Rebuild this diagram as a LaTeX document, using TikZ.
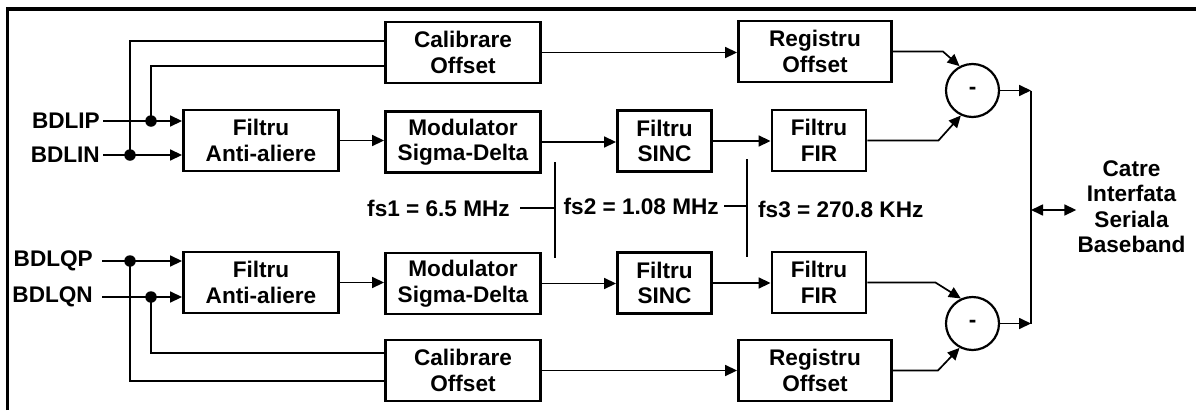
\documentclass[tikz,border=0pt]{standalone}
\usepackage{fontspec}
\setmainfont{Liberation Sans}
\usetikzlibrary{arrows.meta}

\begin{document}
\begin{tikzpicture}[x=1pt,y=-1pt,
  lbl/.style={font=\bfseries\fontsize{22.6}{25.5}\selectfont},
  blk/.style={lbl, draw, line width=2.9pt, minimum width=155pt, minimum height=61pt,
              inner sep=0pt, align=center},
  sblk/.style={blk, minimum width=94pt},
  rblk/.style={blk, minimum width=153pt},
  sum/.style={lbl, draw, circle, line width=2.2pt, minimum size=53pt, inner sep=0pt},
  txt/.style={lbl, inner sep=0pt, align=center},
  wire/.style={line width=1.7pt},
  tip/.tip={Triangle[length=12pt,width=11pt]},
  sig/.style={wire, -tip},
  jdot/.style={circle, fill, inner sep=0pt, minimum size=11.5pt},
  fsline/.style={line width=1.4pt}]

\useasboundingbox (0,0) rectangle (1196,410);

% frame (top and left edges)
\draw[line width=3.4pt] (7.3,410) -- (7.3,9) -- (1196,9);

% ---- I channel ----
\node[blk]  (cal1) at (463,52.5)  {Calibrare\\Offset};
\node[rblk] (reg1) at (815,51.5)  {Registru\\Offset};
\node[blk]  (aa1)  at (261,140.5) {Filtru\\Anti-aliere};
\node[blk]  (mod1) at (463,142)   {Modulator\\Sigma-Delta};
\node[sblk] (sinc1) at (664.5,141) {Filtru\\SINC};
\node[sblk] (fir1) at (819,140.5) {Filtru\\FIR};
\node[sum]  (sum1) at (972.5,90.5) {-};

% ---- Q channel ----
\node[blk]  (aa2)  at (261,282.5) {Filtru\\Anti-aliere};
\node[blk]  (mod2) at (463,283.5) {Modulator\\Sigma-Delta};
\node[sblk] (sinc2) at (664.5,283) {Filtru\\SINC};
\node[sblk] (fir2) at (819,282.5) {Filtru\\FIR};
\node[blk]  (cal2) at (463,370.5) {Calibrare\\Offset};
\node[rblk] (reg2) at (815,370.5) {Registru\\Offset};
\node[sum]  (sum2) at (972.5,323.5) {-};

% ---- inputs ----
\node[txt, anchor=east, inner xsep=3pt] (ip) at (103,121) {BDLIP};
\node[txt, anchor=east, inner xsep=3pt] (in) at (103,155) {BDLIN};
\node[txt, anchor=east, inner xsep=9pt] (qp) at (102,261) {BDLQP};
\node[txt, anchor=east, inner xsep=9pt] (qn) at (102,297) {BDLQN};

\node[jdot] (dip) at (151,121) {};
\node[jdot] (din) at (130,155) {};
\node[jdot] (dqp) at (130,261) {};
\node[jdot] (dqn) at (151,297) {};

\draw[sig] (ip.east) -- (ip.east -| aa1.west);
\draw[sig] (in.east) -- (in.east -| aa1.west);
\draw[sig] (qp.east) -- (qp.east -| aa2.west);
\draw[sig] (qn.east) -- (qn.east -| aa2.west);

\draw[wire] (din.center) |- ([yshift=11.5pt]cal1.west);
\draw[wire] (dip.center) |- ([yshift=-13.5pt]cal1.west);
\draw[wire] (dqn.center) |- ([yshift=17.5pt]cal2.west);
\draw[wire] (dqp.center) |- ([yshift=-10.5pt]cal2.west);

% ---- signal chain ----
\draw[sig] (aa1.east)   -- (aa1.east -| mod1.west);
\draw[sig] (mod1.east)  -- (mod1.east -| sinc1.west);
\draw[sig] (sinc1.east) -- (sinc1.east -| fir1.west);
\draw[sig] (aa2.east)   -- (aa2.east -| mod2.west);
\draw[sig] (mod2.east)  -- (mod2.east -| sinc2.west);
\draw[sig] (sinc2.east) -- (sinc2.east -| fir2.west);
\draw[sig] (cal1.east)  -- (cal1.east -| reg1.west);
\draw[sig] (cal2.east)  -- (cal2.east -| reg2.west);

% ---- subtractors ----
\draw[sig] (reg1.east) -- ++(50,0) -- (sum1.118);
\draw[sig] (fir1.east) -- ++(71,0) -- (sum1.245);
\draw[sig] (fir2.east) -- ++(68,0) -- (sum2.115);
\draw[sig] (reg2.east) -- ++(45,0) -- (sum2.242);

% ---- output bus ----
\coordinate (bus1) at (1031,90.5);
\coordinate (bus2) at (1031,323.5);
\coordinate (busm) at (1031,210);
\draw[sig] (sum1.east) -- (bus1);
\draw[sig] (sum2.east) -- (bus2);
\draw[wire] (bus1) -- (bus2);
\node[txt, inner xsep=1pt] (out) at (1131.5,206.8) {Catre\\Interfata\\Seriala\\Baseband};
\draw[wire, tip-tip] (busm) -- (busm -| out.west);

% ---- sampling rates ----
\coordinate (v1a) at (555,162);
\coordinate (v1b) at (555,258);
\coordinate (v2a) at (747,159);
\coordinate (v2b) at (747,257);
\draw[fsline] (v1a) -- (v1b);
\draw[fsline] (v2a) -- (v2b);
\node[lbl, anchor=east, inner xsep=10pt, inner ysep=0pt] (fs1) at (520,208) {fs1 = 6.5 MHz};
\node[lbl, anchor=east, inner xsep=5pt, inner ysep=0pt] (fs2) at (724,206) {fs2 = 1.08 MHz};
\node[lbl, anchor=west, inner sep=0pt] (fs3) at (758,209.5) {fs3 = 270.8 KHz};
\draw[fsline] (fs1.east) -- (fs1.east -| v1a);
\draw[fsline] (fs2.east) -- (fs2.east -| v2a);

\end{tikzpicture}
\end{document}
